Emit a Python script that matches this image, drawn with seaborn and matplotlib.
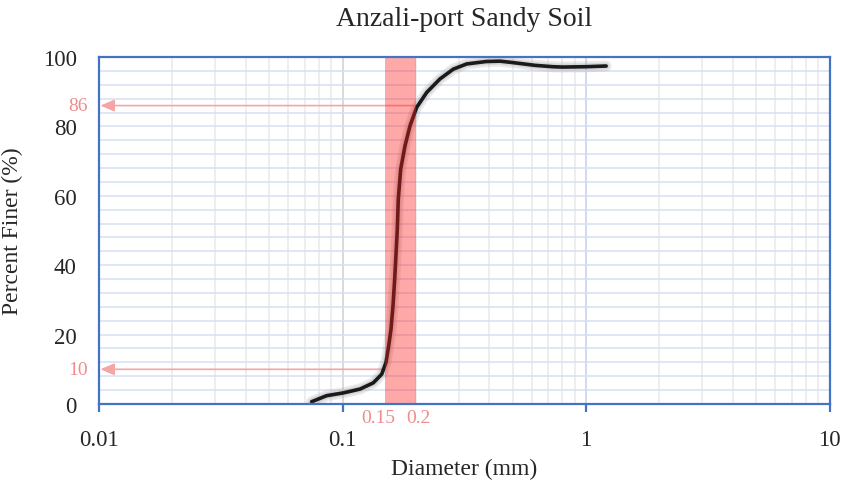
import matplotlib
matplotlib.use("Agg")
import matplotlib.pyplot as plt
import matplotlib.patheffects as pe
from matplotlib.ticker import FixedLocator, LogLocator, NullFormatter, MultipleLocator
import seaborn as sns
import pandas as pd

# ---- data ----
diameter_mm = [0.0747, 0.0861, 0.1008, 0.1180, 0.1338, 0.1449, 0.1509, 0.1548,
               0.1582, 0.1612, 0.1638, 0.1663, 0.1679, 0.1695, 0.1734, 0.1806,
               0.1894, 0.2017, 0.2218, 0.2515, 0.2851, 0.3236, 0.3894, 0.4437,
               0.500, 0.6165, 0.7307, 0.800, 1.000, 1.210]
percent_finer = [0.66, 2.4, 3.2, 4.3, 6.1, 8.6, 12.0, 16.8,
                 21.6, 28.3, 36.0, 44.7, 50.4, 59.1, 67.7, 74.4,
                 80.2, 85.5, 89.8, 93.7, 96.5, 98.0, 98.7, 98.8,
                 98.4, 97.6, 97.2, 97.1, 97.2, 97.4]
band_range = [0.15, 0.2]
band_labels = ["0.15", "0.2"]
marked_pct = [86, 10]
marked_from_d = [0.2017, 0.1470]
x_ticks = [0.01, 0.1, 1, 10]
x_tick_labels = ["0.01", "0.1", "1", "10"]
y_ticks = [0, 20, 40, 60, 80, 100]

title = "Anzali-port Sandy Soil"
xlabel = "Diameter (mm)"
ylabel = "Percent Finer (%)"

df = pd.DataFrame({"d": diameter_mm, "p": percent_finer})

sns.set_theme(style="white")
plt.rcParams["font.family"] = ["Liberation Serif", "DejaVu Serif"]

fig = plt.figure(figsize=(8.56, 4.81), dpi=100)
ax = fig.add_axes([99 / 856, 1 - 405 / 481, (829.5 - 99) / 856, (405 - 58) / 481])

ax.set_xscale("log")
ax.set_xlim(x_ticks[0], x_ticks[-1])
ax.set_ylim(0, 100)

# grid
ax.yaxis.set_major_locator(FixedLocator(y_ticks))
ax.yaxis.set_minor_locator(MultipleLocator(4))
ax.grid(which="minor", axis="y", color="#D6DFF1", lw=1.1, zorder=0)
ax.grid(which="major", axis="y", color="#D6DFF1", lw=1.1, zorder=0)
ax.xaxis.set_major_locator(FixedLocator(x_ticks))
ax.xaxis.set_minor_locator(LogLocator(base=10, subs=range(2, 10)))
ax.xaxis.set_minor_formatter(NullFormatter())
ax.grid(which="minor", axis="x", color="#EDEDED", lw=1.3, zorder=0)
ax.axvline(x_ticks[1], color="#CFCFCF", lw=1.1, zorder=0.5)
ax.axvline(x_ticks[2], color="#C3D1EC", lw=1.1, zorder=0.5)

# curve
line_ax = sns.lineplot(data=df, x="d", y="p", sort=False, estimator=None, ax=ax,
                       color="#1a1a1a", lw=2.6, zorder=3,
                       path_effects=[pe.Stroke(linewidth=8, foreground="#9a9a9a", alpha=0.2),
                                     pe.Stroke(linewidth=5, foreground="#9a9a9a", alpha=0.25),
                                     pe.Normal()])
for ln in ax.get_lines():
    ln.set_solid_joinstyle("round")
    ln.set_solid_capstyle("round")

# band
ax.axvspan(band_range[0], band_range[1], color=(1.0, 0.1, 0.1), alpha=0.38, lw=0, zorder=4)

pink = "#F4A6A6"
pink_txt = "#F08C8C"
for val, d0 in zip(marked_pct, marked_from_d):
    ax.annotate("", xy=(x_ticks[0], val), xytext=(d0, val),
                arrowprops=dict(arrowstyle="-|>,head_length=0.7,head_width=0.3",
                                color=pink, lw=1.2, shrinkA=0, shrinkB=1),
                zorder=2)
    ax.annotate(str(val), xy=(x_ticks[0], val), xytext=(-8, 0), textcoords="offset points",
                ha="right", va="center", color=pink_txt, fontsize=14, annotation_clip=False)

ax.annotate(band_labels[0], xy=(band_range[0], 0), xytext=(-5, -10), textcoords="offset points",
            ha="center", va="center", color=pink_txt, fontsize=14, annotation_clip=False)
ax.annotate(band_labels[1], xy=(band_range[1], 0), xytext=(2, -10), textcoords="offset points",
            ha="center", va="center", color=pink_txt, fontsize=14, annotation_clip=False)

# spines and ticks
for s in ax.spines.values():
    s.set_visible(True)
    s.set_color("#4472C4")
    s.set_linewidth(1.6)
    s.set_zorder(5)

ax.set_xticks(x_ticks)
ax.set_xticklabels(x_tick_labels)
ax.tick_params(axis="x", which="major", direction="out", length=6, width=1.6,
               color="#4472C4", labelsize=16.5, pad=12, bottom=True)
ax.tick_params(axis="x", which="minor", length=0)
ax.tick_params(axis="y", which="both", length=0, labelsize=16.5, pad=16)

ax.set_xlabel(xlabel, fontsize=17, labelpad=6)
ax.set_ylabel(ylabel, fontsize=17, labelpad=14)
fig.suptitle(title, fontsize=20, x=(99 + 829.5) / 2 / 856, y=0.985)

fig.savefig("out.png", dpi=100)
